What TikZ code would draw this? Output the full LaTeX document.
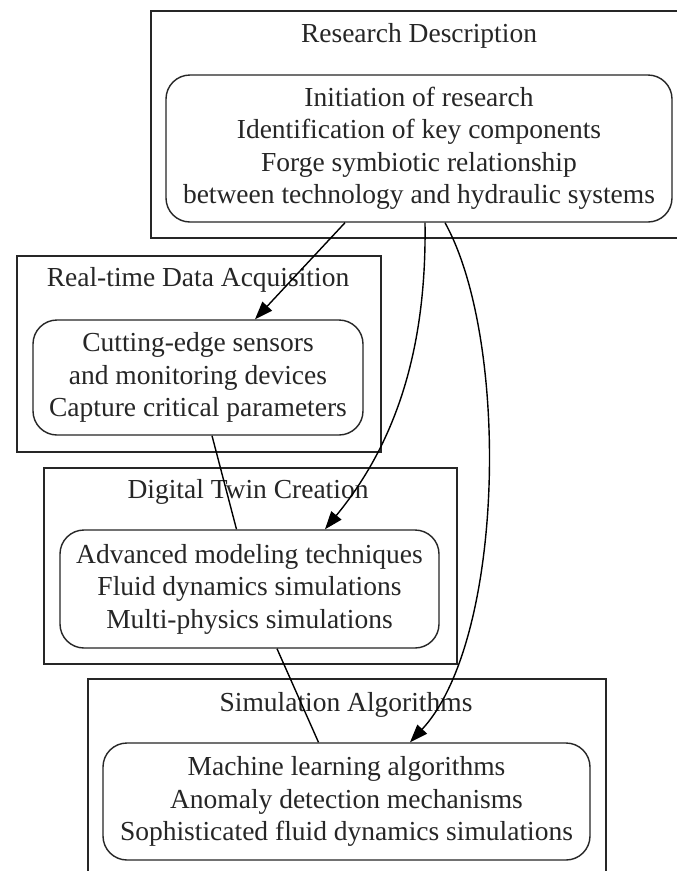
\documentclass[tikz,border=0pt]{standalone}
\usepackage{fontspec}
\setmainfont{Liberation Serif}
\usetikzlibrary{arrows.meta}
\begin{document}
\begin{tikzpicture}[x=1pt,y=-1pt,
  cluster/.style={draw=black!85, line width=1.6pt, inner sep=0pt, anchor=north west},
  box/.style={draw=black!85, line width=1.4pt, rounded corners=24pt, align=center, inner sep=0pt, text=black!85, font=\fontsize{27.5}{32.5}\selectfont},
  title/.style={text=black!85, font=\fontsize{27.5}{32.5}\selectfont, inner sep=0pt},
  link/.style={line width=1.4pt, draw=black},
  arr/.style={link, -{Triangle[length=18pt,width=13pt]}}]
\useasboundingbox (0,0) rectangle (677,871);
\clip (0,0) rectangle (677,871);
\fill[white] (0,0) rectangle (677,871);
% clusters
\node[cluster, minimum width=570pt, minimum height=227pt] (c1) at (150,10) {};
\node[cluster, minimum width=364pt, minimum height=196pt] (c2) at (16,255) {};
\node[cluster, minimum width=413pt, minimum height=196pt] (c3) at (43,467) {};
\node[cluster, minimum width=518pt, minimum height=250pt] (c4) at (87,678) {};
% titles
\node[title] (t1) at (419,36) {Research Description};
\node[title] (t2) at (198,280) {Real-time Data Acquisition};
\node[title] (t3) at (248,492) {Digital Twin Creation};
\node[title] (t4) at (346,705) {Simulation Algorithms};
% nodes
\node[box, minimum width=506pt, minimum height=147pt] (n1) at (419,148.5)
  {Initiation of research\\Identification of key components\\Forge symbiotic relationship\\between technology and hydraulic systems};
\node[box, minimum width=330pt, minimum height=115pt] (n2) at (198,377.5)
  {Cutting-edge sensors\\and monitoring devices\\Capture critical parameters};
\node[box, minimum width=379pt, minimum height=118pt] (n3) at (249.5,589)
  {Advanced modeling techniques\\Fluid dynamics simulations\\Multi-physics simulations};
\node[box, minimum width=487pt, minimum height=117pt] (n4) at (346.5,801.5)
  {Machine learning algorithms\\Anomaly detection mechanisms\\Sophisticated fluid dynamics simulations};
% edges
\draw[arr] ([xshift=-74pt]n1.south) -- ([xshift=57pt]n2.north);
\draw[arr] ([xshift=6pt]n1.south) .. controls (427,360) and (390,450) .. ([xshift=75.5pt]n3.north);
\draw[arr] ([xshift=26pt]n1.south) .. controls (510,340) and (505,640) .. ([xshift=63.5pt]n4.north);
\draw[link] ([xshift=14pt]n2.south) -- ([xshift=-13pt]n3.north);
\draw[link] ([xshift=27.5pt]n3.south) -- ([xshift=-28pt]n4.north);
\end{tikzpicture}
\end{document}
